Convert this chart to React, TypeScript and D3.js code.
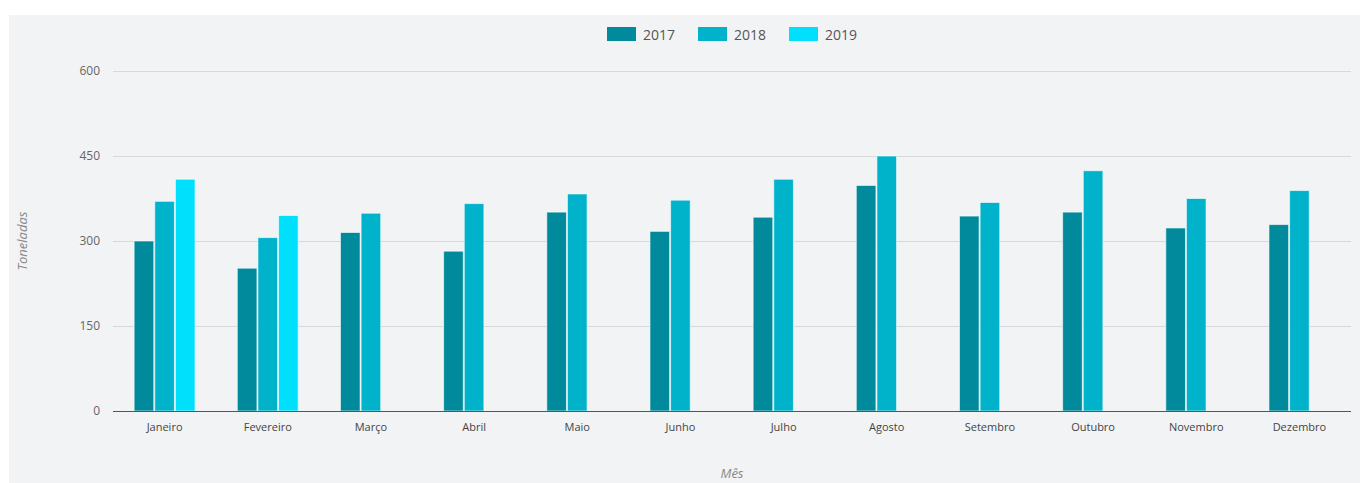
import React from 'react';
import * as d3 from 'd3';

const months = ['Janeiro', 'Fevereiro', 'Março', 'Abril', 'Maio', 'Junho', 'Julho', 'Agosto', 'Setembro', 'Outubro', 'Novembro', 'Dezembro'];
const years = ['2017', '2018', '2019'];
const v2017 = [300, 252, 315, 282, 351, 317, 342, 398, 344, 351, 323, 329];
const v2018 = [370, 306, 349, 366, 383, 372, 409, 450, 368, 424, 375, 389];
const v2019 = [409, 345, 0, 0, 0, 0, 0, 0, 0, 0, 0, 0];
const yTicks = [0, 150, 300, 450, 600];
const colors = ['#008a9b', '#00b3cb', '#00e0fd'];

const W = 1360;
const H = 483;
const margin = { top: 71, right: 9, bottom: 72, left: 113 };

const App = () => {
  const series = [v2017, v2018, v2019];

  const x = d3.scaleBand<string>()
    .domain(months)
    .range([margin.left, W - margin.right])
    .padding(0);

  // group padding 0.2 on each side, bars touch each other
  const bw = x.bandwidth();
  const xInner = d3.scaleBand<string>()
    .domain(years)
    .range([0.2 * bw, 0.8 * bw])
    .padding(0);

  const y = d3.scaleLinear().domain([0, 600]).range([H - margin.bottom, margin.top]);

  const plotMid = (margin.left + W - margin.right) / 2;

  return (
    <svg width={W} height={H} style={{ position: 'absolute', left: 0, top: 0, fontFamily: '"Open Sans", sans-serif' }}>
      <rect x={9} y={15} width={W - 9} height={H - 15} fill="#f2f3f5" />

      {/* legend */}
      {years.map((yr, i) => (
        <g key={yr} transform={`translate(${607 + i * 91},27)`}>
          <rect width={29} height={14} fill={colors[i]} />
          <text x={36} y={12.5} fontSize={14} fill="#555">{yr}</text>
        </g>
      ))}

      {/* grid + y labels */}
      {yTicks.map(t => (
        <g key={t}>
          {t !== 0 && (
            <line x1={margin.left} x2={W - margin.right} y1={y(t) + 0.5} y2={y(t) + 0.5} stroke="#d6d8db" />
          )}
          <text x={100} y={y(t) + 4} textAnchor="end" fontSize={12} fill="#666">{t}</text>
        </g>
      ))}

      {/* bars */}
      {months.map((m, mi) => (
        <g key={m} transform={`translate(${x(m)},0)`}>
          {series.map((s, si) => (
            <rect
              key={si}
              x={xInner(years[si])! + 0.5}
              y={y(s[mi])}
              width={xInner.bandwidth() - 1}
              height={y(0) - y(s[mi])}
              fill={colors[si]}
              stroke="#ffffff"
              strokeOpacity={0.6}
              strokeWidth={1}
            />
          ))}
        </g>
      ))}

      {/* x axis */}
      <line x1={margin.left} x2={W - margin.right} y1={y(0) + 0.5} y2={y(0) + 0.5} stroke="#555" />
      {months.map(m => (
        <text key={m} x={x(m)! + bw / 2} y={431} textAnchor="middle" fontSize={11} fill="#444">{m}</text>
      ))}

      {/* axis titles */}
      <text x={plotMid} y={478} textAnchor="middle" fontSize={13} fontStyle="italic" fill="#888">Mês</text>
      <text transform={`translate(27,${(y(0) + y(600)) / 2}) rotate(-90)`} textAnchor="middle" fontSize={13} fontStyle="italic" fill="#888">Toneladas</text>
    </svg>
  );
};

export default App;
